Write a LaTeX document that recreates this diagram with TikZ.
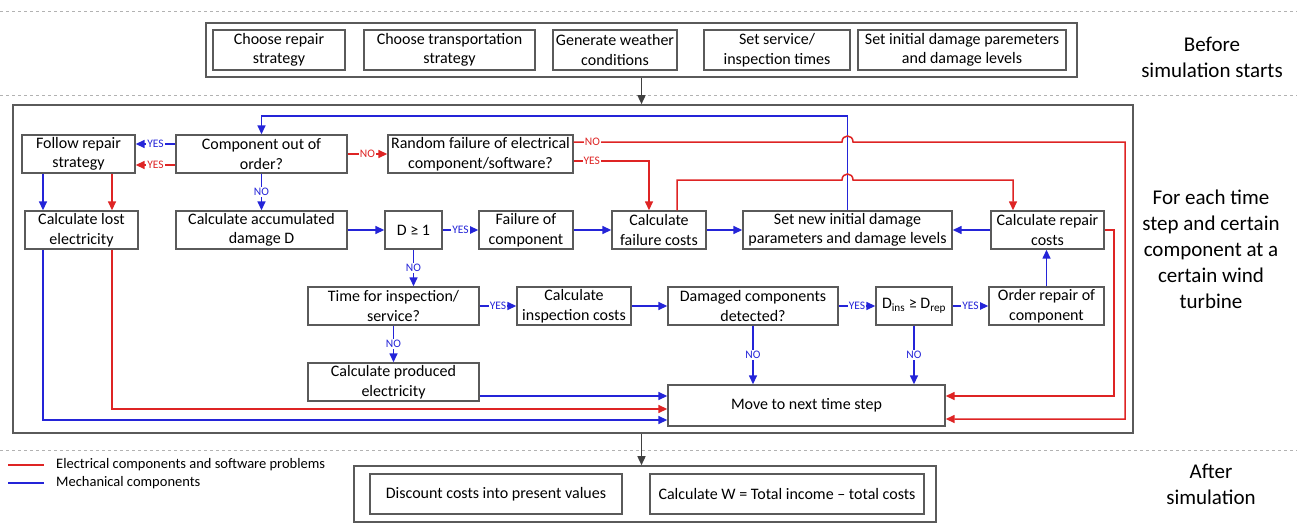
\documentclass[tikz,border=0pt]{standalone}
\usepackage{fontspec}
\setmainfont{Carlito}
\usetikzlibrary{arrows.meta}
\definecolor{ered}{RGB}{222,36,36}
\definecolor{mblue}{RGB}{36,36,216}
\definecolor{boxgray}{RGB}{90,90,90}
\begin{document}
\begin{tikzpicture}[x=1pt,y=-1pt,
  box/.style={draw=boxgray,line width=1.4pt,align=center,inner sep=0pt,minimum height=38pt,font=\fontsize{16}{19.5}\selectfont},
  stagebox/.style={draw=boxgray,line width=1.6pt,inner sep=0pt},
  sidelabel/.style={align=center,font=\fontsize{21}{26}\selectfont},
  legend/.style={anchor=west,inner sep=0pt,font=\fontsize{14.5}{17}\selectfont},
  elec/.style={ered,line width=1.5pt,-{Triangle[length=9pt,width=8pt]}},
  mech/.style={mblue,line width=1.5pt,-{Triangle[length=9pt,width=8pt]}},
  yesno/.style={fill=white,inner sep=1pt,font=\fontsize{11.5}{12}\selectfont},
  stagearrow/.style={black!75,line width=1.5pt,-{Triangle[length=9pt,width=8pt]}},
  divider/.style={black!30,dashed,line width=0.6pt}]
\useasboundingbox (0,0) rectangle (1297,524);
\draw[divider] (0,11) -- (1297,11);
\draw[divider] (0,95) -- (1297,95);
\draw[divider] (0,450) -- (1297,450);

\node[stagebox,minimum width=871pt,minimum height=54pt] (before) at (641.5,50) {};
\node[box,minimum width=132pt,minimum height=40pt] (repair) at (279,50) {Choose repair\\strategy};
\node[box,minimum width=171pt,minimum height=40pt] (transport) at (449.5,50) {Choose transportation\\strategy};
\node[box,minimum width=124pt,minimum height=40pt] (weather) at (615,50) {Generate weather\\conditions};
\node[box,minimum width=146pt,minimum height=40pt] (service) at (777,50) {Set service/\\inspection times};
\node[box,minimum width=208pt,minimum height=40pt] (initial) at (962,50) {Set initial damage paremeters\\and damage levels};
\node[sidelabel] (lbefore) at (1212,57) {Before\\simulation starts};

\node[stagebox,minimum width=1120pt,minimum height=328pt] (sim) at (573,269) {};
\node[box,minimum width=113pt] (follow) at (78.5,154) {Follow repair\\strategy};
\node[box,minimum width=171pt] (outorder) at (261.5,154) {Component out of\\order?};
\node[box,minimum width=185pt] (random) at (480.5,154) {Random failure of electrical\\component/software?};
\node[box,minimum width=113pt] (lost) at (81.5,230) {Calculate lost\\electricity};
\node[box,minimum width=171pt] (accum) at (261.5,230) {Calculate accumulated\\damage D};
\node[box,minimum width=57pt] (dge) at (413.5,230) {D ≥ 1};
\node[box,minimum width=94pt] (failure) at (526,230) {Failure of\\component};
\node[box,minimum width=94pt] (failcost) at (659,230) {Calculate\\failure costs};
\node[box,minimum width=209pt] (setnew) at (847.5,230) {Set new initial damage\\parameters and damage levels};
\node[box,minimum width=113pt] (repcost) at (1047.5,230) {Calculate repair\\costs};
\node[box,minimum width=171pt] (inspect) at (393.5,306) {Time for inspection/\\service?};
\node[box,minimum width=114pt] (inspcost) at (574,306) {Calculate\\inspection costs};
\node[box,minimum width=170pt] (detected) at (753,306) {Damaged components\\detected?};
\node[box,minimum width=76pt] (dins) at (914,306) {D\textsubscript{ins} ≥ D\textsubscript{rep}};
\node[box,minimum width=115pt] (order) at (1046.5,306) {Order repair of\\component};
\node[box,minimum width=171pt] (produced) at (393.5,382) {Calculate produced\\electricity};
\node[box,minimum width=277pt,minimum height=41pt] (move) at (806.5,405.5) {Move to next time step};
\node[sidelabel] (lstep) at (1211,249) {For each time\\step and certain\\component at a\\certain wind\\turbine};

\node[stagebox,minimum width=582pt,minimum height=56pt] (after) at (645,494) {};
\node[box,minimum width=252pt,minimum height=40pt] (discount) at (496,494) {Discount costs into present values};
\node[box,minimum width=274pt,minimum height=40pt] (netvalue) at (787,494) {Calculate W = Total income -- total costs};
\node[sidelabel] (lafter) at (1211,484) {After\\simulation};

\node[legend] (lgelec) at (56,465) {Electrical components and software problems};
\node[legend] (lgmech) at (56,483) {Mechanical components};
\draw[ered,line width=1.2pt] (8,465) -- ([xshift=-12pt]lgelec.west);
\draw[mblue,line width=1.2pt] (8,483) -- ([xshift=-12pt]lgmech.west);

\draw[stagearrow] (before.south) -- (before.south |- sim.north);
\draw[stagearrow] (before.south |- sim.south) -- (before.south |- after.north);

\coordinate (looptop) at (261.5,116);
\draw[mech] (setnew.north) |- (looptop) -- (outorder.north);
\draw[mech] ([yshift=10pt]outorder.west) -- node[yesno]{YES} ([yshift=10pt]follow.east);
\draw[elec] ([yshift=-11pt]outorder.west) -- node[yesno]{YES} ([yshift=-11pt]follow.east);
\draw[elec] (outorder.east) -- node[yesno]{NO} (random.west);
\draw[mech] (outorder.south) -- node[yesno]{NO} (accum.north);
\draw[elec] ([yshift=12pt]random.east) -- node[yesno,pos=0.07]{NO} (842,142) .. controls (842,134) and (853,134) .. (853,142) -- (1125,142) |- ([yshift=-13.5pt]move.east);
\draw[elec] ([yshift=-7pt]random.east) -| node[yesno,pos=0.12]{YES} ([xshift=-10pt]failcost.north);
\draw[elec] ([xshift=18pt]failcost.north) |- (842,180) .. controls (842,172) and (853,172) .. (853,180) -| ([xshift=-34.5pt]repcost.north);
\draw[elec] (repcost.east) -- (1114,230) |- ([yshift=9.5pt]move.east);
\draw[mech] ([xshift=-35.5pt]follow.south) -- ([xshift=-35.5pt]follow.south |- lost.north);
\draw[elec] ([xshift=33.5pt]follow.south) -- ([xshift=33.5pt]follow.south |- lost.north);
\draw[mech] ([xshift=-38.5pt]lost.south) |- ([yshift=-14.5pt]move.west);
\draw[elec] ([xshift=30.5pt]lost.south) |- ([yshift=-3.5pt]move.west);
\draw[mech] ([yshift=-14pt]produced.east) -- ([yshift=9.5pt]move.west);

\draw[mech] (accum.east) -- (dge.west);
\draw[mech] (dge.east) -- node[yesno]{YES} (failure.west);
\draw[mech] (failure.east) -- (failcost.west);
\draw[mech] (failcost.east) -- (setnew.west);
\draw[mech] (repcost.west) -- (setnew.east);
\draw[mech] (dge.south) -- node[yesno]{NO} (dge.south |- inspect.north);
\draw[mech] (inspect.east) -- node[yesno]{YES} (inspcost.west);
\draw[mech] (inspcost.east) -- (detected.west);
\draw[mech] (detected.east) -- node[yesno]{YES} (dins.west);
\draw[mech] (dins.east) -- node[yesno]{YES} (order.west);
\draw[mech] (inspect.south) -- node[yesno]{NO} (produced.north);
\draw[mech] (detected.south) -- node[yesno]{NO} (detected.south |- move.north);
\draw[mech] (dins.south) -- node[yesno]{NO} (dins.south |- move.north);
\draw[mech] (order.north) -- (order.north |- repcost.south);
\end{tikzpicture}
\end{document}
